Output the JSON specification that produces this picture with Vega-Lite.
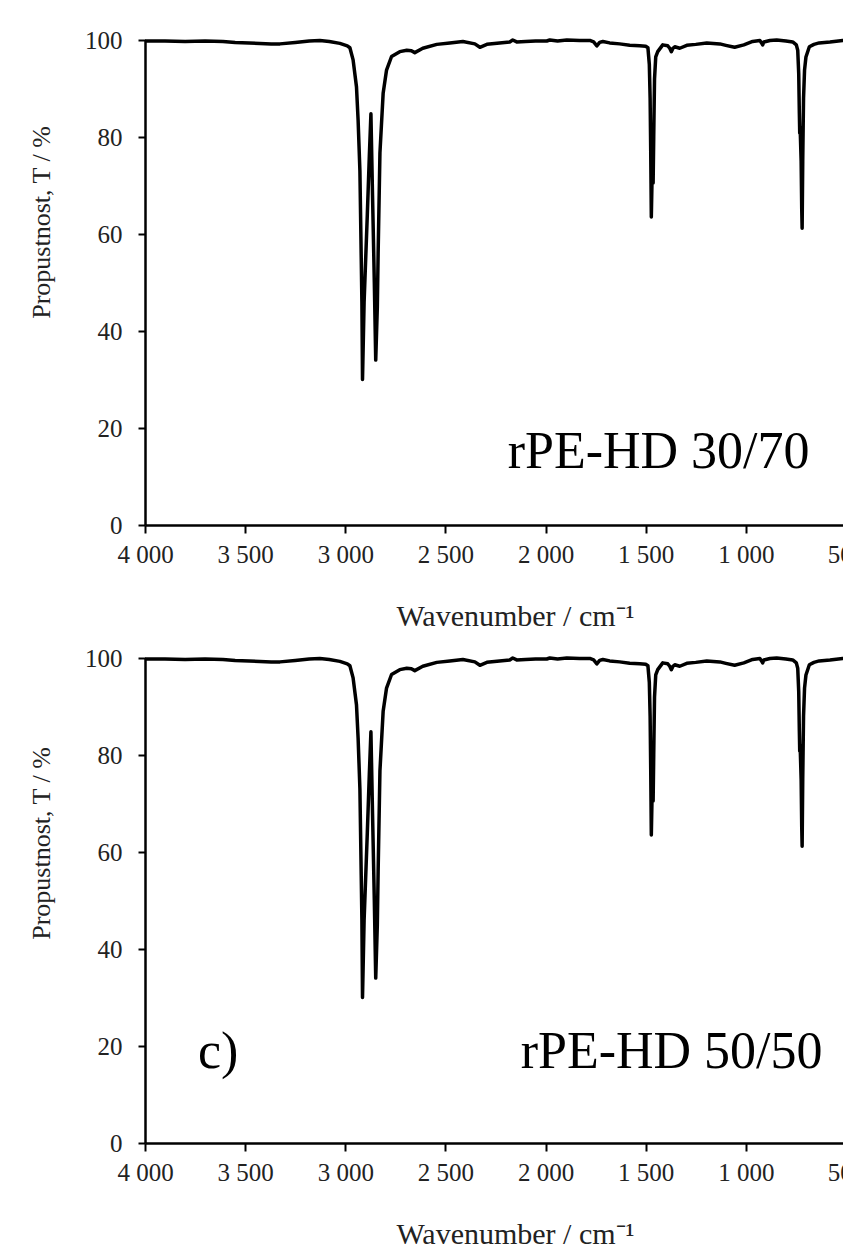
{
  "$schema": "https://vega.github.io/schema/vega-lite/v6.json",
  "background": "white",
  "padding": {"left": 28, "top": 28, "right": 0, "bottom": 0},
  "bounds": "flush",
  "spacing": 133,
  "config": {
    "view": {"stroke": null},
    "font": "Liberation Serif",
    "axis": {
      "domainColor": "black", "domainWidth": 2.5, "tickColor": "black", "tickWidth": 2,
      "grid": false, "labelColor": "#222", "titleColor": "#222",
      "labelFont": "Liberation Serif", "titleFont": "Liberation Serif", "titleFontWeight": "normal",
      "labelFontSize": 25, "titleFontSize": 26
    }
  },
  "datasets": {
    "ir": [
      {"wn": 4000, "T": 99.8}, {"wn": 3900, "T": 99.8}, {"wn": 3800, "T": 99.7}, {"wn": 3700, "T": 99.8},
      {"wn": 3611, "T": 99.7}, {"wn": 3550, "T": 99.5}, {"wn": 3480, "T": 99.4}, {"wn": 3426, "T": 99.3},
      {"wn": 3370, "T": 99.2}, {"wn": 3326, "T": 99.2}, {"wn": 3250, "T": 99.5}, {"wn": 3180, "T": 99.8},
      {"wn": 3127, "T": 99.9}, {"wn": 3080, "T": 99.7}, {"wn": 3027, "T": 99.3}, {"wn": 2990, "T": 98.8},
      {"wn": 2977, "T": 98.4}, {"wn": 2961, "T": 95.9}, {"wn": 2944, "T": 90.3}, {"wn": 2936, "T": 83.5},
      {"wn": 2927, "T": 73}, {"wn": 2922, "T": 59.4}, {"wn": 2917, "T": 45.8}, {"wn": 2914, "T": 30},
      {"wn": 2906, "T": 46}, {"wn": 2890, "T": 64}, {"wn": 2880, "T": 76}, {"wn": 2872, "T": 84.8},
      {"wn": 2864, "T": 68}, {"wn": 2855, "T": 50}, {"wn": 2848, "T": 34}, {"wn": 2840, "T": 45},
      {"wn": 2836, "T": 56}, {"wn": 2827, "T": 76.7}, {"wn": 2811, "T": 89}, {"wn": 2794, "T": 93.8},
      {"wn": 2769, "T": 96.6}, {"wn": 2728, "T": 97.6}, {"wn": 2693, "T": 97.9}, {"wn": 2670, "T": 97.8},
      {"wn": 2653, "T": 97.4}, {"wn": 2613, "T": 98.3}, {"wn": 2543, "T": 99.1}, {"wn": 2478, "T": 99.4},
      {"wn": 2413, "T": 99.7}, {"wn": 2353, "T": 99.2}, {"wn": 2328, "T": 98.5}, {"wn": 2293, "T": 99.1},
      {"wn": 2179, "T": 99.6}, {"wn": 2164, "T": 100}, {"wn": 2144, "T": 99.6}, {"wn": 2100, "T": 99.7},
      {"wn": 2050, "T": 99.8}, {"wn": 1994, "T": 99.8}, {"wn": 1979, "T": 100}, {"wn": 1940, "T": 99.8},
      {"wn": 1894, "T": 100}, {"wn": 1830, "T": 99.9}, {"wn": 1779, "T": 99.9}, {"wn": 1760, "T": 99.6},
      {"wn": 1744, "T": 98.8}, {"wn": 1730, "T": 99.5}, {"wn": 1714, "T": 99.7}, {"wn": 1680, "T": 99.4},
      {"wn": 1630, "T": 99.2}, {"wn": 1580, "T": 98.9}, {"wn": 1530, "T": 98.8}, {"wn": 1500, "T": 98.7},
      {"wn": 1489, "T": 98.4}, {"wn": 1482, "T": 95}, {"wn": 1478, "T": 88}, {"wn": 1475, "T": 77},
      {"wn": 1472, "T": 63.5}, {"wn": 1469, "T": 70}, {"wn": 1466, "T": 72}, {"wn": 1463, "T": 70.5},
      {"wn": 1460, "T": 80}, {"wn": 1456, "T": 92}, {"wn": 1450, "T": 96.5}, {"wn": 1440, "T": 97.6},
      {"wn": 1415, "T": 99}, {"wn": 1390, "T": 98.8}, {"wn": 1380, "T": 98.3}, {"wn": 1372, "T": 97.6},
      {"wn": 1364, "T": 98.3}, {"wn": 1355, "T": 98.6}, {"wn": 1330, "T": 98.3}, {"wn": 1295, "T": 98.9},
      {"wn": 1250, "T": 99.1}, {"wn": 1195, "T": 99.4}, {"wn": 1130, "T": 99.2}, {"wn": 1100, "T": 98.9},
      {"wn": 1056, "T": 98.5}, {"wn": 1010, "T": 99}, {"wn": 966, "T": 99.7}, {"wn": 930, "T": 99.9},
      {"wn": 920, "T": 99.3}, {"wn": 916, "T": 99}, {"wn": 910, "T": 99.6}, {"wn": 880, "T": 99.9},
      {"wn": 846, "T": 100}, {"wn": 800, "T": 99.8}, {"wn": 766, "T": 99.6}, {"wn": 748, "T": 99},
      {"wn": 741, "T": 97.9}, {"wn": 736, "T": 93}, {"wn": 733, "T": 85}, {"wn": 731, "T": 80.8},
      {"wn": 729, "T": 82}, {"wn": 724, "T": 75}, {"wn": 721, "T": 65}, {"wn": 719, "T": 61.2},
      {"wn": 716, "T": 75}, {"wn": 712, "T": 88}, {"wn": 707, "T": 93.8}, {"wn": 700, "T": 96.5},
      {"wn": 683, "T": 98.6}, {"wn": 660, "T": 99.1}, {"wn": 634, "T": 99.4}, {"wn": 580, "T": 99.6},
      {"wn": 517, "T": 99.9}, {"wn": 500, "T": 99.9}
    ]
  },
  "vconcat": [
    {
      "width": 701, "height": 485,
      "layer": [
        {
          "data": {"name": "ir"},
          "mark": {"type": "line", "color": "black", "strokeWidth": 3.5, "strokeJoin": "round"},
          "encoding": {
            "x": {"field": "wn", "type": "quantitative",
              "scale": {"domain": [500, 4000], "reverse": true, "nice": false},
              "axis": {"values": [4000, 3500, 3000, 2500, 2000, 1500, 1000, 500],
                "labelExpr": "replace(format(datum.value, ','), ',', ' ')",
                "title": "Wavenumber / cm⁻¹", "titleFontSize": 30, "tickSize": 8, "labelPadding": 9, "labelFlush": false,
                "titleX": 370, "titleY": 100, "titleBaseline": "alphabetic"}},
            "y": {"field": "T", "type": "quantitative",
              "scale": {"domain": [0, 100], "nice": false},
              "axis": {"values": [0, 20, 40, 60, 80, 100], "title": "Propustnost, T / %",
                "tickSize": 7, "labelPadding": 16, "titleX": -91, "titleY": 182}}
          }
        },
        {
          "data": {"values": [{}]},
          "mark": {"type": "text", "text": "rPE-HD 30/70", "align": "right", "baseline": "alphabetic",
            "fontSize": 52, "font": "Liberation Serif", "color": "black"},
          "encoding": {"x": {"datum": 682, "type": "quantitative"}, "y": {"datum": 11.8, "type": "quantitative"}}
        }
      ]
    },
    {
      "width": 701, "height": 485,
      "layer": [
        {
          "data": {"name": "ir"},
          "mark": {"type": "line", "color": "black", "strokeWidth": 3.5, "strokeJoin": "round"},
          "encoding": {
            "x": {"field": "wn", "type": "quantitative",
              "scale": {"domain": [500, 4000], "reverse": true, "nice": false},
              "axis": {"values": [4000, 3500, 3000, 2500, 2000, 1500, 1000, 500],
                "labelExpr": "replace(format(datum.value, ','), ',', ' ')",
                "title": "Wavenumber / cm⁻¹", "titleFontSize": 30, "tickSize": 8, "labelPadding": 9, "labelFlush": false,
                "titleX": 370, "titleY": 100, "titleBaseline": "alphabetic"}},
            "y": {"field": "T", "type": "quantitative",
              "scale": {"domain": [0, 100], "nice": false},
              "axis": {"values": [0, 20, 40, 60, 80, 100], "title": "Propustnost, T / %",
                "tickSize": 7, "labelPadding": 16, "titleX": -91, "titleY": 185}}
          }
        },
        {
          "data": {"values": [{}]},
          "mark": {"type": "text", "text": "rPE-HD 50/50", "align": "right", "baseline": "alphabetic",
            "fontSize": 52, "font": "Liberation Serif", "color": "black"},
          "encoding": {"x": {"datum": 617, "type": "quantitative"}, "y": {"datum": 15.5, "type": "quantitative"}}
        },
        {
          "data": {"values": [{}]},
          "mark": {"type": "text", "text": "c)", "align": "left", "baseline": "alphabetic",
            "fontSize": 52, "font": "Liberation Serif", "color": "black"},
          "encoding": {"x": {"datum": 3736, "type": "quantitative"}, "y": {"datum": 15.5, "type": "quantitative"}}
        }
      ]
    }
  ]
}
